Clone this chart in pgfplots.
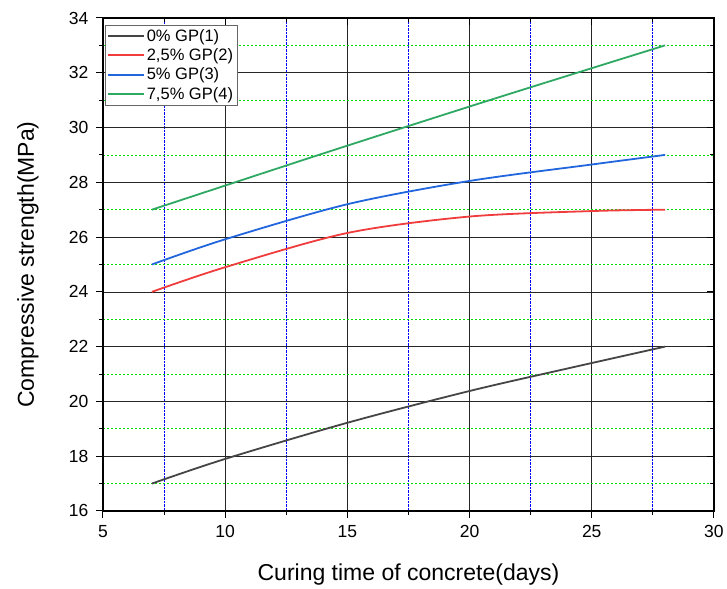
\documentclass[border=0pt]{standalone}
\usepackage{pgfplots}
\pgfplotsset{compat=1.18}
\usepackage{fontspec}
\setmainfont{Liberation Sans}
\definecolor{c1}{HTML}{454545}
\definecolor{c2}{HTML}{F03C3C}
\definecolor{c3}{HTML}{2266DD}
\definecolor{c4}{HTML}{2EA862}
\begin{document}
\begin{tikzpicture}
\begin{axis}[
  name=ax,
  scale only axis, width=611pt, height=493pt,
  xmin=5, xmax=30, ymin=16, ymax=34,
  xtick={5,10,...,30}, ytick={16,18,...,34},
  minor xtick={7.5,12.5,...,27.5}, minor ytick={17,19,...,33},
  grid=both,
  major grid style={black!85, line width=0.6pt},
  minor x grid style={blue, densely dotted, line width=0.7pt},
  minor y grid style={green!85!black, dash pattern=on 2pt off 2pt, line width=0.7pt},
  axis line style={black, line width=1.3pt},
  tick align=outside, xtick pos=bottom, ytick pos=left,
  major tick length=7pt, minor tick length=4pt,
  tick style={black, line width=1pt},
  /pgf/number format/assume math mode=true,
  ticklabel style={font=\fontsize{17.5}{17.5}\selectfont},
  xticklabel style={yshift=-4pt},
  yticklabel style={xshift=-4pt},
  xlabel={Curing time of concrete(days)},
  ylabel={Compressive strength(MPa)},
  label style={font=\fontsize{23}{23}\selectfont},
  xlabel style={at={(axis description cs:0.5,-0.1298)}, anchor=center},
  ylabel style={at={(axis description cs:-0.1227,0.5)}, anchor=center},
  legend style={at={(axis description cs:0.003,0.986)}, anchor=north west, draw=gray!80!black,
    font=\fontsize{16.5}{16.5}\selectfont, row sep=2pt, inner sep=2pt},
  legend cell align=left,
  legend image code/.code={\draw[#1, line width=1.8pt] (0pt,0pt) -- (36pt,0pt);},
]
\addplot[c1, line width=1.8pt, smooth] coordinates {(7,17) (10,17.9) (15,19.22) (20,20.38) (24,21.2) (28,22)};
\addlegendentry{0\% GP(1)}
\addplot[c2, line width=1.8pt, smooth] coordinates {(7,24) (10,24.9) (15,26.15) (20,26.75) (25,26.95) (28,27)};
\addlegendentry{2,5\% GP(2)}
\addplot[c3, line width=1.8pt, smooth] coordinates {(7,25) (10,25.92) (15,27.2) (20,28.05) (25,28.65) (28,29)};
\addlegendentry{5\% GP(3)}
\addplot[c4, line width=1.8pt, smooth] coordinates {(7,27) (14,29.05) (21,31.05) (28,33)};
\addlegendentry{7,5\% GP(4)}
\coordinate (sw) at (rel axis cs:0,0);
\coordinate (ne) at (rel axis cs:1,1);
\end{axis}
\begin{axis}[
  scale only axis, width=611pt, height=493pt,
  xmin=5, xmax=30, ymin=16, ymax=34,
  xtick={5,10,...,30}, ytick={16,18,...,34},
  minor xtick={7.5,12.5,...,27.5}, minor ytick={17,19,...,33},
  xticklabels={}, yticklabels={},
  axis line style={black, line width=1.3pt},
  tick align=inside, xtick pos=top, ytick pos=right,
  major tick length=7pt, minor tick length=4pt,
  tick style={black, line width=1pt},
]
\end{axis}
\path (sw) ++(-103pt,-78pt);
\path (ne) ++(13pt,18pt);
\end{tikzpicture}
\end{document}
